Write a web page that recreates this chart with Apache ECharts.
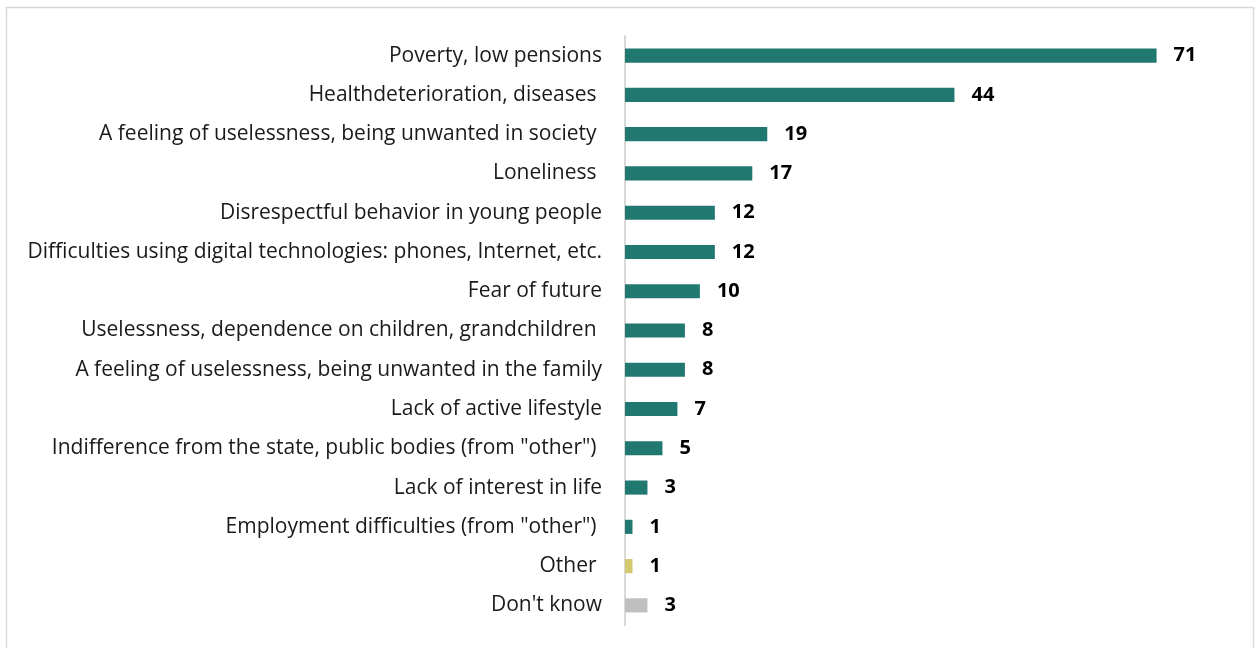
<!DOCTYPE html>
<html>
<head>
<meta charset="utf-8">
<script src="https://cdn.jsdelivr.net/npm/echarts@6/dist/echarts.min.js"></script>
<style>
  html, body { margin: 0; padding: 0; background: #fff; }
  #chart { width: 1255px; height: 648px; }
</style>
</head>
<body>
<div id="chart"></div>
<script>
// Reasons named, top to bottom
const categories = [
  'Poverty, low pensions',
  'Healthdeterioration, diseases ',
  'A feeling of uselessness, being unwanted in society ',
  'Loneliness ',
  'Disrespectful behavior in young people',
  'Difficulties using digital technologies: phones, Internet, etc.',
  'Fear of future',
  'Uselessness, dependence on children, grandchildren ',
  'A feeling of uselessness, being unwanted in the family',
  'Lack of active lifestyle',
  'Indifference from the state, public bodies (from "other") ',
  'Lack of interest in life',
  'Employment difficulties (from "other") ',
  'Other ',
  "Don't know"
];
const values = [71, 44, 19, 17, 12, 12, 10, 8, 8, 7, 5, 3, 1, 1, 3];
// bar colour group per row: main answers, "Other", "Don't know"
const groups = ['main','main','main','main','main','main','main','main','main','main','main','main','main','other','dk'];
const groupColors = { main: '#217870', other: '#d3c96f', dk: '#bfbfbf' };

const chart = echarts.init(document.getElementById('chart'), null, { renderer: 'canvas' });

const FONT = '"Open Sans", "Noto Sans", sans-serif';

chart.setOption({
  animation: false,
  backgroundColor: '#ffffff',
  graphic: [{
    type: 'rect',
    shape: { x: 6.5, y: 7.5, width: 1247, height: 660 },
    style: { fill: 'none', stroke: '#d9d9d9', lineWidth: 1.5 },
    silent: true
  }],
  grid: { left: 625, right: 31, top: 36, bottom: 23, containLabel: false },
  xAxis: {
    type: 'value',
    min: 0,
    max: 80,
    show: false
  },
  yAxis: {
    type: 'category',
    inverse: true,
    data: categories,
    axisLine: { show: true, lineStyle: { color: '#d9d9d9', width: 2 } },
    axisTick: { show: false },
    axisLabel: {
      margin: 23,
      fontFamily: FONT,
      fontSize: 21,
      color: '#1a1a1a'
    }
  },
  series: [{
    type: 'bar',
    barWidth: '36%',
    data: values.map((v, i) => ({
      value: v,
      itemStyle: { color: groupColors[groups[i]] }
    })),
    label: {
      show: true,
      position: 'right',
      distance: 17,
      fontFamily: FONT,
      fontSize: 20,
      fontWeight: 'bold',
      color: '#000000'
    }
  }]
});
</script>
</body>
</html>
